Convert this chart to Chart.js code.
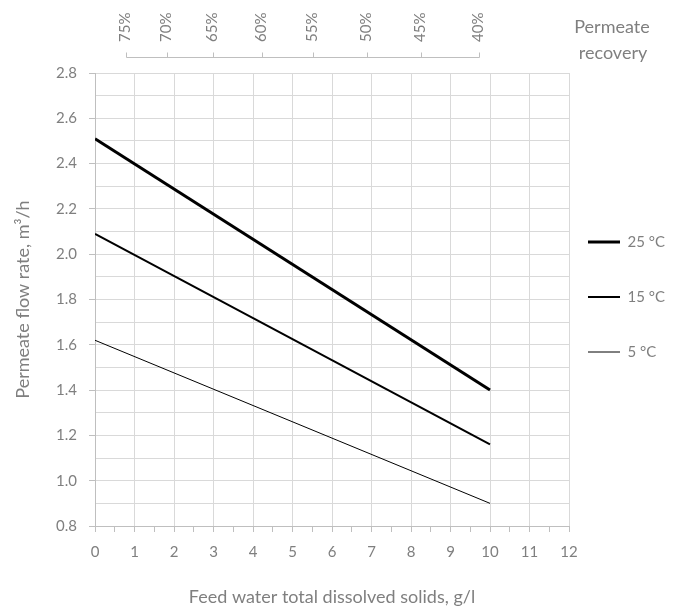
<!DOCTYPE html>
<html>
<head>
<meta charset="utf-8">
<script src="https://cdn.jsdelivr.net/npm/chart.js@4/dist/chart.umd.min.js"></script>
<style>
  html, body { margin: 0; padding: 0; background: #ffffff; }
  #wrap { width: 678px; height: 608px; }
</style>
</head>
<body>
<div id="wrap"><canvas id="c" width="678" height="608"></canvas></div>
<script>
// ---- data ----
const tdsValues = [0, 10];                 // feed water TDS, g/l
const flow25 = [2.51, 1.40];               // 25 °C
const flow15 = [2.09, 1.16];               // 15 °C
const flow5  = [1.62, 0.90];               // 5 °C
const seriesLabels = ['25 °C', '15 °C', '5 °C'];
const recoveryLabels = ['75%', '70%', '65%', '60%', '55%', '50%', '45%', '40%'];
const recoveryAtTds = [0.78, 1.83, 2.98, 4.22, 5.53, 6.88, 8.25, 9.72];

const FONT = 'Lato, "Open Sans", sans-serif';
const GRAY = '#7f7f7f';
const GRID = '#d9d9d9';
const LEGEND_PAD = 40;

function pts(ys) { return tdsValues.map((x, i) => ({ x: x, y: ys[i] })); }

const bracketPlugin = {
  id: 'recoveryBracket',
  afterDraw(chart) {
    const s = chart.scales.x2;
    const ctx = chart.ctx;
    const xs = s.ticks.map(t => s.getPixelForValue(t.value));
    const yLine = 57.5;
    ctx.save();
    ctx.strokeStyle = '#bfbfbf';
    ctx.lineWidth = 1;
    ctx.beginPath();
    ctx.moveTo(Math.round(xs[0]) + 0.5, yLine);
    ctx.lineTo(Math.round(xs[xs.length - 1]) + 0.5, yLine);
    xs.forEach(x => {
      ctx.moveTo(Math.round(x) + 0.5, yLine);
      ctx.lineTo(Math.round(x) + 0.5, yLine - 5);
    });
    ctx.stroke();
    ctx.fillStyle = GRAY;
    ctx.font = '18px ' + FONT;
    ctx.textAlign = 'center';
    ctx.textBaseline = 'middle';
    ctx.fillText('Permeate', 612, 27);
    ctx.fillText('recovery', 613, 53);
    ctx.restore();
  }
};

// keep the legend narrow (chart area ends at x≈569) while keeping wide vertical spacing
const legendPlacement = {
  id: 'legendPlacement',
  beforeLayout(chart) {
    const lg = chart.legend;
    if (lg && !lg._patched) {
      const orig = lg.fit;
      lg.fit = function () { orig.call(this); if (!this.isHorizontal()) this.width = 109; };
      lg._patched = true;
    }
  },
  afterLayout(chart) {
    const lg = chart.legend;
    if (!lg) return;
    const dx = (chart.chartArea.right + 19) - (lg.left + LEGEND_PAD);
    lg.left += dx;
    lg.top -= 7; lg.bottom -= 7;
  }
};

new Chart(document.getElementById('c'), {
  type: 'line',
  data: {
    datasets: [
      { label: seriesLabels[0], data: pts(flow25), borderColor: '#000', backgroundColor: '#000', borderWidth: 3, pointRadius: 0 },
      { label: seriesLabels[1], data: pts(flow15), borderColor: '#000', backgroundColor: '#000', borderWidth: 2, pointRadius: 0 },
      { label: seriesLabels[2], data: pts(flow5),  borderColor: '#000', backgroundColor: '#000', borderWidth: 1, pointRadius: 0 }
    ]
  },
  options: {
    responsive: false,
    animation: false,
    devicePixelRatio: 1,
    layout: { padding: 0 },
    plugins: {
      tooltip: { enabled: false },
      legend: {
        position: 'right',
        labels: {
          usePointStyle: true,
          pointStyle: 'line',
          pointStyleWidth: 32,
          color: GRAY,
          font: { family: FONT, size: 15 },
          padding: LEGEND_PAD
        }
      }
    },
    scales: {
      x: {
        type: 'linear',
        position: 'bottom',
        min: 0, max: 12,
        afterBuildTicks(scale) {
          const t = [];
          for (let v = 0; v <= 12; v += 0.5) t.push({ value: v });
          scale.ticks = t;
        },
        ticks: {
          autoSkip: false, maxRotation: 0, minRotation: 0,
          color: GRAY, font: { family: FONT, size: 15 }, padding: 11,
          callback: (v) => Number.isInteger(v) ? String(v) : ''
        },
        grid: {
          color: (c) => (c.tick && Number.isInteger(c.tick.value)) ? GRID : 'rgba(0,0,0,0)',
          tickColor: '#bfbfbf',
          tickLength: 6,
          drawTicks: true
        },
        border: { color: '#bfbfbf' },
        title: { display: true, text: 'Feed water total dissolved solids, g/l', color: GRAY, font: { family: FONT, size: 18 }, padding: { top: 20, bottom: 0 } },
        afterFit(scale) { scale.height = 82; }
      },
      x2: {
        type: 'linear',
        position: 'top',
        min: 0, max: 12,
        afterBuildTicks(scale) {
          scale.ticks = recoveryAtTds.map(v => ({ value: v }));
        },
        ticks: {
          autoSkip: false, minRotation: 90, maxRotation: 90,
          color: GRAY, font: { family: FONT, size: 15 }, padding: 15, labelOffset: 17,
          callback: (v, i) => recoveryLabels[i]
        },
        grid: { display: true, drawOnChartArea: false, drawTicks: true, tickLength: 16, tickColor: 'rgba(0,0,0,0)' },
        border: { display: false },
        afterFit(scale) { scale.height = 73; }
      },
      y: {
        type: 'linear',
        position: 'left',
        min: 0.8, max: 2.8,
        afterBuildTicks(scale) {
          const t = [];
          for (let k = 8; k <= 28; k++) t.push({ value: k / 10 });
          scale.ticks = t;
        },
        ticks: {
          autoSkip: false, color: GRAY, font: { family: FONT, size: 15 }, padding: 12,
          callback: (v, i) => (i % 2 === 0) ? v.toFixed(1) : ''
        },
        grid: {
          color: GRID,
          tickColor: (c) => (c.index % 2 === 0) ? '#bfbfbf' : 'rgba(0,0,0,0)',
          tickLength: 6
        },
        border: { color: '#bfbfbf' },
        title: { display: true, text: 'Permeate flow rate, m³/h', color: GRAY, font: { family: FONT, size: 18 }, padding: { top: 12, bottom: 4 } },
        afterFit(scale) { scale.width = 95; }
      }
    }
  },
  plugins: [bracketPlugin, legendPlacement]
});
</script>
</body>
</html>
